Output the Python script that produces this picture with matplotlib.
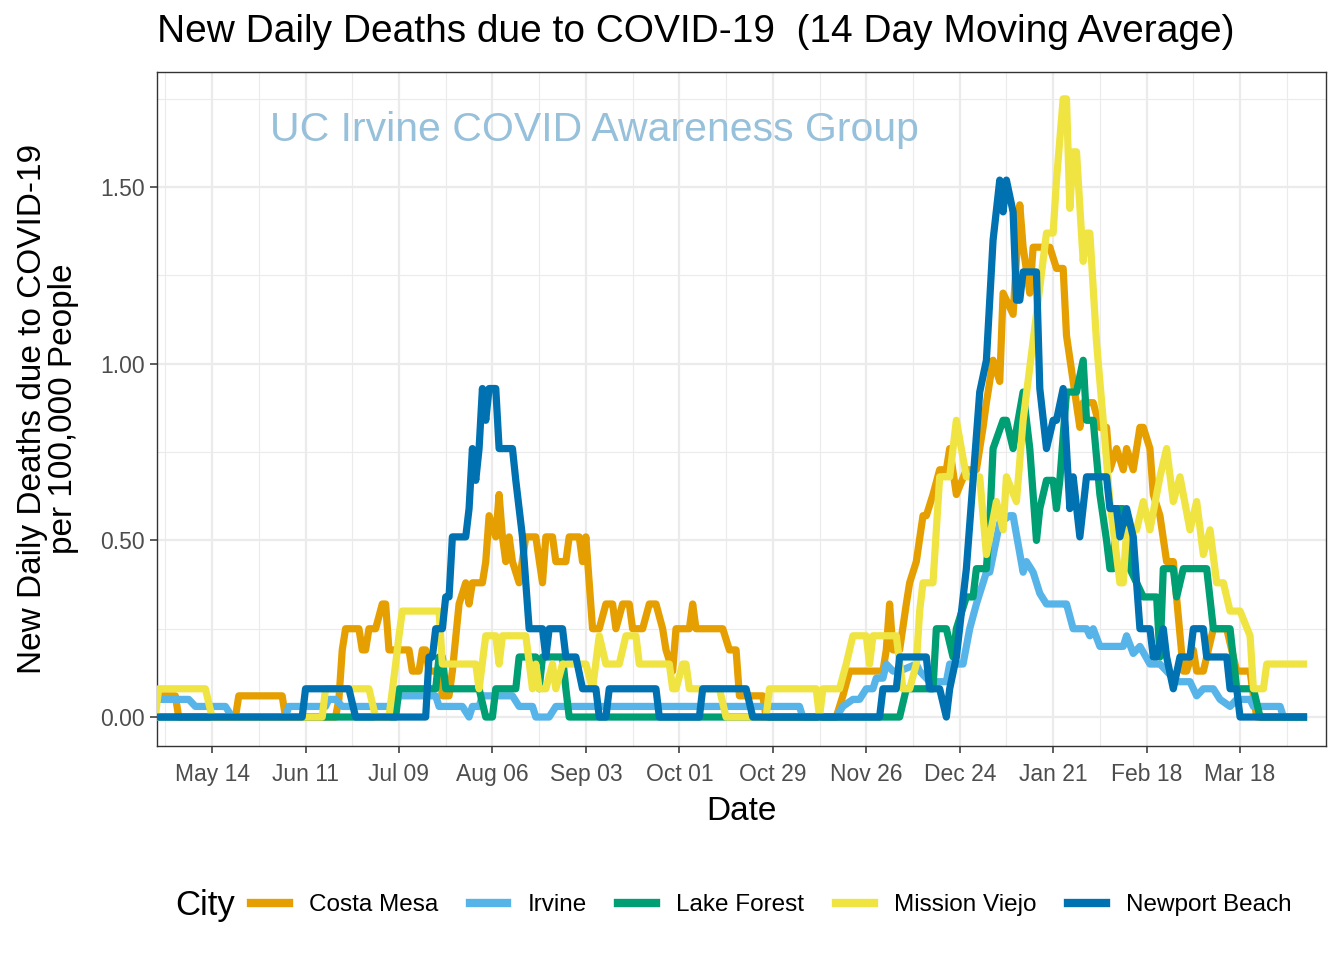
import numpy as np
import matplotlib
matplotlib.use("Agg")
import matplotlib.pyplot as plt
import matplotlib.dates as mdates
from matplotlib.lines import Line2D

plt.rcParams["font.family"] = ["Liberation Sans", "DejaVu Sans"]

# day offsets from 2020-04-27 and 14-day average deaths per 100k
start = np.datetime64("2020-04-27")

costa_mesa_day = [0, 6, 7, 24, 25, 38, 39, 54, 55, 56, 57, 61, 62, 63, 64, 66, 68, 69, 70, 73,
                  76, 77, 79, 80, 81, 82, 85, 86, 88, 89, 91, 93, 94, 95, 98, 99, 100, 102, 103,
                  104, 105, 106, 107, 109, 111, 114, 116, 117, 119, 120, 123, 124, 127, 128, 129,
                  131, 133, 135, 137, 138, 140, 142, 143, 146, 148, 150, 152, 153, 155, 156, 160,
                  161, 162, 170, 172, 174, 175, 182, 183, 204, 206, 208, 218, 219, 220, 221, 223,
                  225, 226, 228, 230, 231, 233, 235, 237, 238, 240, 243, 246, 248, 249, 251, 253,
                  254, 257, 259, 260, 262, 263, 268, 270, 272, 273, 275, 277, 278, 281, 283, 285,
                  286, 288, 290, 291, 293, 295, 296, 298, 299, 301, 303, 305, 308, 309, 311, 312,
                  314, 317, 321, 324, 328, 329, 330, 344]
costa_mesa_val = [0.06, 0.06, 0, 0, 0.06, 0.06, 0, 0, 0.05, 0.19, 0.25, 0.25, 0.19, 0.19, 0.25,
                  0.25, 0.32, 0.32, 0.19, 0.19, 0.19, 0.13, 0.13, 0.19, 0.19, 0.13, 0.13, 0.06,
                  0.06, 0.13, 0.32, 0.38, 0.32, 0.38, 0.38, 0.44, 0.57, 0.51, 0.63, 0.51, 0.44,
                  0.51, 0.44, 0.38, 0.51, 0.51, 0.38, 0.51, 0.51, 0.44, 0.44, 0.51, 0.51, 0.44,
                  0.51, 0.25, 0.25, 0.32, 0.32, 0.25, 0.32, 0.32, 0.25, 0.25, 0.32, 0.32, 0.25,
                  0.19, 0.13, 0.25, 0.25, 0.32, 0.25, 0.25, 0.19, 0.19, 0.06, 0.06, 0, 0, 0.06,
                  0.13, 0.13, 0.19, 0.32, 0.19, 0.19, 0.32, 0.38, 0.44, 0.57, 0.57, 0.63, 0.70,
                  0.70, 0.76, 0.63, 0.70, 0.70, 0.82, 0.89, 1.01, 0.95, 1.20, 1.14, 1.45, 1.33,
                  1.20, 1.33, 1.33, 1.27, 1.27, 1.08, 0.95, 0.82, 0.89, 0.89, 0.82, 0.82, 0.70,
                  0.76, 0.70, 0.76, 0.70, 0.82, 0.82, 0.76, 0.63, 0.57, 0.44, 0.44, 0.13, 0.13,
                  0.19, 0.13, 0.13, 0.25, 0.25, 0.13, 0.13, 0.06, 0, 0]

irvine_day = [0, 10, 12, 21, 23, 39, 40, 51, 52, 54, 56, 72, 73, 84, 85, 92, 94, 95, 97, 98,
              107, 109, 113, 114, 118, 120, 131, 133, 177, 178, 193, 194, 204, 206, 209, 211,
              213, 215, 216, 218, 219, 221, 223, 228, 229, 232, 237, 238, 242, 244, 246, 249,
              250, 253, 256, 257, 260, 261, 263, 265, 267, 269, 272, 273, 275, 279, 280, 281,
              283, 290, 291, 293, 295, 298, 301, 303, 306, 310, 312, 314, 317, 319, 322, 324,
              328, 329, 337, 338, 344]
irvine_val = [0.05, 0.05, 0.03, 0.03, 0, 0, 0.03, 0.03, 0.05, 0.05, 0.03, 0.03, 0.06, 0.06,
              0.03, 0.03, 0.0, 0.03, 0.03, 0.06, 0.06, 0.03, 0.03, 0, 0, 0.03, 0.03, 0.03, 0.03,
              0.03, 0.03, 0, 0, 0.03, 0.05, 0.05, 0.08, 0.08, 0.11, 0.11, 0.15, 0.13, 0.13, 0.15,
              0.13, 0.10, 0.10, 0.15, 0.15, 0.25, 0.32, 0.41, 0.41, 0.55, 0.57, 0.57, 0.41, 0.44,
              0.41, 0.35, 0.32, 0.32, 0.32, 0.32, 0.25, 0.25, 0.23, 0.25, 0.20, 0.20, 0.23, 0.18,
              0.20, 0.15, 0.15, 0.13, 0.10, 0.10, 0.06, 0.08, 0.08, 0.05, 0.03, 0.05, 0.05, 0.03,
              0.03, 0, 0]

lake_forest_day = [0, 72, 73, 84, 85, 86, 87, 97, 99, 101, 102, 108, 109, 114, 115, 116, 122,
                   123, 124, 223, 225, 233, 234, 237, 239, 240, 243, 245, 246, 249, 250, 251,
                   254, 255, 257, 260, 262, 264, 265, 267, 269, 270, 271, 273, 276, 278, 279,
                   281, 283, 285, 286, 287, 288, 290, 292, 296, 300, 301, 302, 305, 306, 308,
                   315, 317, 322, 324, 329, 331, 344]
lake_forest_val = [0, 0, 0.08, 0.08, 0.17, 0.17, 0.08, 0.08, 0, 0, 0.08, 0.08, 0.17, 0.17,
                   0.08, 0.17, 0.17, 0.08, 0, 0, 0.08, 0.08, 0.25, 0.25, 0.17, 0.25, 0.34, 0.34,
                   0.42, 0.42, 0.55, 0.76, 0.84, 0.84, 0.76, 0.92, 0.76, 0.50, 0.59, 0.67, 0.67,
                   0.59, 0.67, 0.92, 0.92, 1.01, 0.84, 0.84, 0.63, 0.50, 0.42, 0.42, 0.59, 0.59,
                   0.42, 0.34, 0.34, 0.17, 0.42, 0.42, 0.34, 0.42, 0.42, 0.25, 0.25, 0.08, 0.08,
                   0, 0]

mission_viejo_day = [0, 1, 15, 17, 50, 51, 64, 66, 70, 72, 73, 74, 85, 86, 96, 97, 99, 102,
                     103, 104, 111, 113, 114, 115, 117, 119, 120, 122, 129, 131, 133, 135, 139,
                     141, 144, 145, 154, 155, 156, 158, 159, 160, 169, 171, 183, 184, 198, 199,
                     200, 205, 207, 209, 213, 214, 215, 222, 224, 226, 228, 229, 230, 233, 235,
                     238, 240, 243, 247, 249, 252, 254, 255, 258, 260, 264, 267, 269, 270, 272,
                     273, 274, 275, 276, 278, 279, 280, 282, 284, 286, 289, 290, 291, 294, 296,
                     298, 301, 303, 305, 307, 310, 312, 314, 316, 318, 320, 322, 325, 328, 329,
                     332, 333, 344]
mission_viejo_val = [0, 0.08, 0.08, 0, 0, 0.08, 0.08, 0, 0, 0.15, 0.23, 0.30, 0.30, 0.15, 0.15,
                     0.08, 0.23, 0.23, 0.15, 0.23, 0.23, 0.08, 0.15, 0.08, 0.08, 0.15, 0.08,
                     0.15, 0.15, 0.08, 0.23, 0.15, 0.15, 0.23, 0.23, 0.15, 0.15, 0.08, 0.08,
                     0.15, 0.15, 0.08, 0.08, 0, 0, 0.08, 0.08, 0, 0.08, 0.08, 0.15, 0.23, 0.23,
                     0.15, 0.23, 0.23, 0.08, 0.08, 0.15, 0.30, 0.38, 0.38, 0.68, 0.68, 0.84,
                     0.68, 0.68, 0.46, 0.61, 0.53, 0.68, 0.61, 0.84, 1.14, 1.37, 1.37, 1.52,
                     1.75, 1.75, 1.44, 1.60, 1.60, 1.29, 1.37, 1.37, 1.06, 0.84, 0.61, 0.38,
                     0.38, 0.53, 0.53, 0.61, 0.53, 0.68, 0.76, 0.61, 0.68, 0.53, 0.61, 0.46,
                     0.53, 0.38, 0.38, 0.30, 0.30, 0.23, 0.08, 0.08, 0.15, 0.15]

newport_day = [0, 44, 45, 58, 60, 81, 82, 83, 84, 86, 87, 88, 89, 93, 94, 95, 96, 97, 98, 99,
               100, 102, 103, 107, 108, 110, 112, 116, 117, 118, 122, 123, 126, 128, 132, 133,
               135, 136, 150, 151, 163, 164, 177, 179, 217, 218, 222, 223, 231, 232, 235, 237,
               238, 240, 243, 245, 247, 249, 251, 253, 254, 255, 257, 258, 259, 260, 264, 265,
               267, 269, 270, 272, 274, 275, 277, 279, 285, 286, 288, 289, 291, 293, 295, 298,
               299, 300, 302, 303, 305, 307, 310, 311, 314, 315, 321, 322, 324, 325, 344]
newport_val = [0, 0, 0.08, 0.08, 0, 0, 0.17, 0.17, 0.25, 0.25, 0.34, 0.34, 0.51, 0.51, 0.59,
               0.76, 0.67, 0.76, 0.93, 0.84, 0.93, 0.93, 0.76, 0.76, 0.67, 0.51, 0.25, 0.25,
               0.17, 0.25, 0.25, 0.17, 0.17, 0.08, 0.08, 0, 0, 0.08, 0.08, 0, 0, 0.08, 0.08, 0,
               0, 0.08, 0.08, 0.17, 0.17, 0.08, 0.08, 0, 0.08, 0.17, 0.42, 0.67, 0.92, 1.01,
               1.35, 1.52, 1.43, 1.52, 1.43, 1.18, 1.18, 1.26, 1.26, 0.93, 0.76, 0.84, 0.84,
               0.93, 0.59, 0.68, 0.51, 0.68, 0.68, 0.59, 0.59, 0.51, 0.59, 0.51, 0.25, 0.25,
               0.17, 0.17, 0.25, 0.17, 0.08, 0.17, 0.17, 0.25, 0.25, 0.17, 0.17, 0.08, 0.08, 0,
               0]

cities = ["Costa Mesa", "Irvine", "Lake Forest", "Mission Viejo", "Newport Beach"]
days = [costa_mesa_day, irvine_day, lake_forest_day, mission_viejo_day, newport_day]
vals = [costa_mesa_val, irvine_val, lake_forest_val, mission_viejo_val, newport_val]
colors = ["#E69F00", "#56B4E9", "#009E73", "#F0E442", "#0072B2"]

fig = plt.figure(figsize=(13.44, 9.6), dpi=100)
ax = fig.add_axes([157 / 1344, 1 - 746 / 960, 1169 / 1344, 674 / 960])

for city, d, v, c in zip(cities, days, vals, colors):
    dates = start + np.array(d).astype("timedelta64[D]")
    ax.plot(dates, v, color=c, lw=5.2, label=city, solid_joinstyle="round", zorder=3)

ax.set_xlim(start + np.timedelta64(12, "h"), np.datetime64("2021-04-12T18"))
ax.set_ylim(-0.082, 1.826)

major = np.arange(np.datetime64("2020-05-14"), np.datetime64("2021-04-01"), 28)
minor = np.arange(np.datetime64("2020-04-30"), np.datetime64("2021-04-14"), 28)
ax.set_xticks(major)
ax.set_xticks(minor, minor=True)
ax.xaxis.set_major_formatter(mdates.DateFormatter("%b %d"))
ax.set_yticks([0, 0.5, 1.0, 1.5])
ax.set_yticks([0.25, 0.75, 1.25, 1.75], minor=True)
ax.set_yticklabels(["0.00", "0.50", "1.00", "1.50"])

ax.grid(which="major", color="#EBEBEB", lw=1.6, zorder=0)
ax.grid(which="minor", color="#EBEBEB", lw=0.8, zorder=0)
ax.set_axisbelow(True)
ax.tick_params(which="major", length=5, width=1.1, color="#333333", labelcolor="#4D4D4D",
               labelsize=16.5, pad=4)
ax.tick_params(axis="x", which="major", pad=7)
ax.tick_params(which="minor", length=0)
for s in ax.spines.values():
    s.set_color("#333333")
    s.set_linewidth(1.0)

ax.text(0.0967, 0.914, "UC Irvine COVID Awareness Group", transform=ax.transAxes,
        fontsize=29.5, color="#97C0DB", va="center", ha="left")

fig.text(157 / 1344, 1 - 32 / 960, "New Daily Deaths due to COVID-19  (14 Day Moving Average)",
         fontsize=28, ha="left", va="center")
fig.text(741.5 / 1344, 1 - 811 / 960, "Date", fontsize=24, ha="center", va="center")
fig.text(48 / 1344, 1 - 409 / 960, "New Daily Deaths due to COVID-19\nper 100,000 People",
         fontsize=24, rotation=90, ha="center", va="center", multialignment="center",
         linespacing=1.0)

handles = [Line2D([], [], color=c, lw=6) for c in colors]
fig.legend(handles, cities, ncol=5, loc="center", bbox_to_anchor=(771 / 1344, 1 - 905 / 960),
           frameon=False, fontsize=17.5, handlelength=1.56, handletextpad=0.82,
           columnspacing=1.3)
fig.text(175 / 1344, 1 - 905 / 960, "City", fontsize=25, ha="left", va="center")

fig.savefig("out.png", dpi=100)
